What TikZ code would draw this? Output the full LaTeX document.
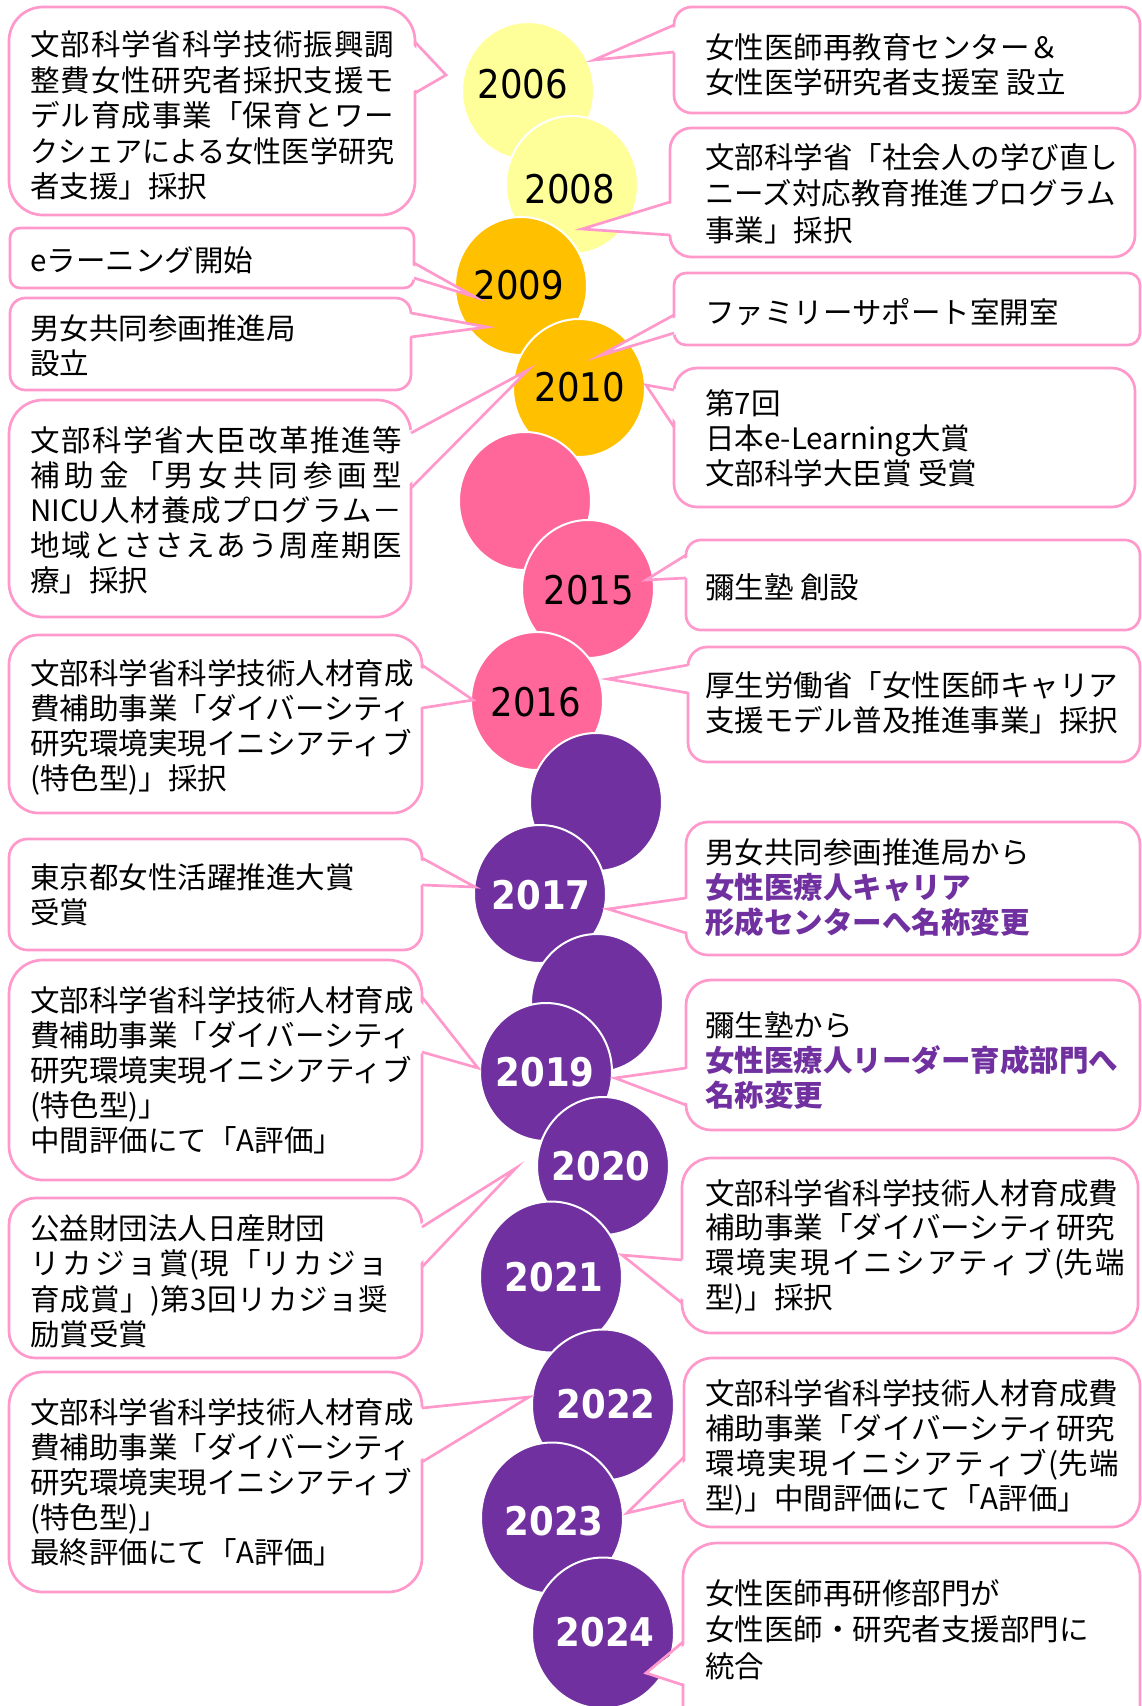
\documentclass[tikz,border=0pt]{standalone}
\usepackage{fontspec}
\setmainfont{Noto Sans CJK JP}
\newfontfamily\yearfont[FakeStretch=0.9]{DejaVu Sans}
\usetikzlibrary{shapes.geometric}
\definecolor{pinkline}{HTML}{FF99CC}
\definecolor{cyel}{HTML}{FFFF99}
\definecolor{corg}{HTML}{FFC000}
\definecolor{cpnk}{HTML}{FF6699}
\definecolor{cpur}{HTML}{7030A0}
\newcommand\jst[2]{\makebox[#1][s]{#2}}
% left callout: name, left, top, right, bottom, p1y, tipx, tipy, p2y
\newcommand\calloutL[9]{%
  \pgfmathsetmacro\crad{min((#5-#3)/6,34)}%
  \draw[cbox, rounded corners=\crad pt] (#2,#3) rectangle (#4,#5);%
  \coordinate (#1) at (#7,#8);%
  \fill[white] ({#4-6},#6) -- (#1) -- ({#4-6},#9) -- cycle;%
  \draw[cedge] (#4,#6) -- (#1) -- (#4,#9);%
}
% right callout: name, left, top, right, bottom, p1y, tipx, tipy, p2y
\newcommand\calloutR[9]{%
  \pgfmathsetmacro\crad{min((#5-#3)/6,34)}%
  \draw[cbox, rounded corners=\crad pt] (#2,#3) rectangle (#4,#5);%
  \coordinate (#1) at (#7,#8);%
  \fill[white] ({#2+6},#6) -- (#1) -- ({#2+6},#9) -- cycle;%
  \draw[cedge] (#2,#6) -- (#1) -- (#2,#9);%
}
% text block: name, x, first baseline, spacing, list of lines
\newcommand\tlines[5]{%
  \foreach \txtline [count=\i] in {#5} {%
    \node[tx] (#1\i) at (#2,{#3+#4*(\i-1)}) {\txtline};%
  }%
}
\begin{document}
\begin{tikzpicture}[x=1pt,y=-1pt,
  cbox/.style={draw=pinkline, line width=2.7pt, fill=white},
  cedge/.style={draw=pinkline, line width=2.7pt},
  ell/.style={ellipse, inner sep=0pt, minimum width=132pt, minimum height=138pt, draw=white, line width=2pt},
  bigell/.style={ell, minimum width=142pt, minimum height=151pt},
  yrn/.style={font=\yearfont\fontsize{39.5pt}{40pt}\selectfont, text=black, inner sep=0pt},
  yrb/.style={font=\yearfont\bfseries\fontsize{39.5pt}{40pt}\selectfont, text=white, inner sep=0pt},
  tx/.style={font=\fontsize{29.5pt}{35pt}\selectfont, anchor=base west, inner sep=0pt, text=black}]
\useasboundingbox (0,0) rectangle (1142,1706);
\clip (0,0) rectangle (1142,1706);

% ---- ellipses ----
\node[ell, fill=cyel] (e06) at (528,91) {};
\node[ell, fill=cyel] (e08) at (572,185) {};
\node[ell, fill=corg] (e09) at (521,286) {};
\node[ell, fill=corg] (e10) at (579,388) {};
\node[ell, fill=cpnk] (ep1) at (525,501) {};
\node[ell, fill=cpnk] (e15) at (588,589) {};
\node[ell, fill=cpnk] (e16) at (537,701) {};
\node[ell, fill=cpur] (eu1) at (596,802) {};
\node[ell, fill=cpur] (e17) at (540,894) {};
\node[ell, fill=cpur] (eu2) at (597,1003) {};
\node[ell, fill=cpur] (e19) at (546,1072) {};
\node[ell, fill=cpur] (e20) at (603,1166) {};
\node[bigell, fill=cpur] (e21) at (551,1277) {};
\node[bigell, fill=cpur] (e22) at (603,1405) {};
\node[bigell, fill=cpur] (e23) at (552,1518) {};
\node[bigell, fill=cpur] (e24) at (603,1633) {};

% ---- years ----
\node[yrn] (y06) at (523,84) {2006};
\node[yrn] (y08) at (570,189) {2008};
\node[yrn] (y09) at (519,285) {2009};
\node[yrn] (y10) at (580,387) {2010};
\node[yrn] (y15) at (589,590) {2015};
\node[yrn] (y16) at (536,702) {2016};
\node[yrb] (y17) at (541,895) {2017};
\node[yrb] (y19) at (545,1072) {2019};
\node[yrb] (y20) at (601,1166) {2020};
\node[yrb] (y21) at (554,1277) {2021};
\node[yrb] (y22) at (606,1404) {2022};
\node[yrb] (y23) at (554,1521) {2023};
\node[yrb] (y24) at (605,1632) {2024};

% ---- left callouts ----
\calloutL{tL1}{9}{7}{415}{215}{42}{446}{75}{93}
\calloutL{tL2}{10}{228}{414}{288}{263}{475}{297}{278}
\calloutL{tL3}{10}{298}{411}{390}{313}{487}{327}{337}
\calloutL{tL4}{9}{400}{411}{617}{433}{528}{370}{488}
\calloutL{tL5}{9}{635}{422}{813}{665}{473}{700}{708}
\calloutL{tL6}{9}{839}{422}{950}{858}{475}{887}{885}
\calloutL{tL7}{9}{960}{422}{1180}{997}{478}{1068}{1052}
\calloutL{tL8}{9}{1198}{422}{1358}{1227}{516}{1168}{1267}
\calloutL{tL9}{9}{1372}{422}{1592}{1408}{529}{1397}{1462}

% ---- right callouts ----
\calloutR{tR1}{674}{7}{1140}{113}{25}{594}{60}{52}
\calloutR{tR2}{670}{128}{1135}{257}{202}{582}{229}{235}
\calloutR{tR3}{674}{273}{1140}{345}{315}{599}{356}{333}
\calloutR{tR4}{674}{368}{1135}{507}{390}{646}{385}{427}
\calloutR{tR5}{686}{540}{1140}{630}{555}{646}{580}{578}
\calloutR{tR6}{688}{647}{1140}{762}{665}{608}{679}{693}
\calloutR{tR7}{686}{822}{1140}{955}{898}{608}{909}{933}
\calloutR{tR8}{686}{980}{1140}{1130}{1068}{615}{1078}{1105}
\calloutR{tR9}{682}{1158}{1138}{1333}{1260}{622}{1255}{1303}
\calloutR{tR10}{684}{1358}{1140}{1527}{1457}{627}{1513}{1500}
\calloutR{tR11}{683}{1543}{1140}{1760}{1642}{646}{1673}{1685}

% ---- left texts ----
\tlines{xL1}{30}{55.5}{35.5}{{\jst{364pt}{文\hfil 部\hfil 科\hfil 学\hfil 省\hfil 科\hfil 学\hfil 技\hfil 術\hfil 振\hfil 興\hfil 調}},{\jst{364pt}{整\hfil 費\hfil 女\hfil 性\hfil 研\hfil 究\hfil 者\hfil 採\hfil 択\hfil 支\hfil 援\hfil モ}},{\jst{364pt}{デ\hfil ル\hfil 育\hfil 成\hfil 事\hfil 業\hfil 「保\hfil 育\hfil と\hfil ワ\hfil ー}},{\resizebox{364pt}{\height}{クシェアによる女性医学研究}},{者支援」採択}}
\tlines{xL2}{30}{271}{35}{{eラーニング開始}}
\tlines{xL3}{30}{339}{35}{{男女共同参画推進局},{設立}}
\tlines{xL4}{30}{451}{35}{{\jst{372pt}{文\hfil 部\hfil 科\hfil 学\hfil 省\hfil 大\hfil 臣\hfil 改\hfil 革\hfil 推\hfil 進\hfil 等}},{\jst{372pt}{補\hfil 助\hfil 金\hfil 「男\hfil 女\hfil 共\hfil 同\hfil 参\hfil 画\hfil 型}},{\jst{372pt}{NICU\hfil 人\hfil 材\hfil 養\hfil 成\hfil プ\hfil ロ\hfil グ\hfil ラ\hfil ム\hfil －}},{\jst{372pt}{地\hfil 域\hfil と\hfil さ\hfil さ\hfil え\hfil あ\hfil う\hfil 周\hfil 産\hfil 期\hfil 医}},{療」採択}}
\tlines{xL5}{30}{684}{35}{{文部科学省科学技術人材育成},{費補助事業「ダイバーシティ},{研究環境実現イニシアティブ},{(特色型)」採択}}
\tlines{xL6}{30}{888}{35}{{東京都女性活躍推進大賞},{受賞}}
\tlines{xL7}{30}{1011}{35}{{文部科学省科学技術人材育成},{費補助事業「ダイバーシティ},{研究環境実現イニシアティブ},{(特色型)」},{中間評価にて「A評価」}}
\tlines{xL8}{30}{1239}{35.5}{{公益財団法人日産財団},{\jst{358pt}{リ\hfil カ\hfil ジ\hfil ョ\hfil 賞(現\hfil 「リ\hfil カ\hfil ジ\hfil ョ}},{\jst{358pt}{育\hfil 成\hfil 賞\hfil 」)第\hfil 3\hfil 回\hfil リ\hfil カ\hfil ジ\hfil ョ\hfil 奨}},{励賞受賞}}
\tlines{xL9}{30}{1423}{35}{{文部科学省科学技術人材育成},{費補助事業「ダイバーシティ},{研究環境実現イニシアティブ},{(特色型)」},{最終評価にて「A評価」}}

% ---- right texts ----
\tlines{xR1}{705}{58}{35}{{女性医師再教育センター＆},{女性医学研究者支援室 設立}}
\tlines{xR2}{705}{168}{36.5}{{文部科学省「社会人の学び直し},{ニーズ対応教育推進プログラム},{事業」採択}}
\tlines{xR3}{705}{323}{35}{{ファミリーサポート室開室}}
\tlines{xR4}{705}{414}{35}{{第7回},{日本e-Learning大賞},{文部科学大臣賞 受賞}}
\tlines{xR5}{705}{598}{35}{{彌生塾 創設}}
\tlines{xR6}{705}{696}{35}{{厚生労働省「女性医師キャリア},{支援モデル普及推進事業」採択}}
\tlines{xR7}{705}{863}{35}{{男女共同参画推進局から},{\bfseries\color{cpur}女性医療人キャリア},{\bfseries\color{cpur}形成センターへ名称変更}}
\tlines{xR8}{705}{1036}{35}{{彌生塾から},{\bfseries\color{cpur}女性医療人リーダー育成部門へ},{\bfseries\color{cpur}名称変更}}
\tlines{xR9}{705}{1204}{34.7}{{文部科学省科学技術人材育成費},{補助事業「ダイバーシティ研究},{\jst{420pt}{環\hfil 境\hfil 実\hfil 現\hfil イ\hfil ニ\hfil シ\hfil ア\hfil テ\hfil ィ\hfil ブ\hfil (先\hfil 端}},{型)」採択}}
\tlines{xR10}{705}{1404}{35}{{文部科学省科学技術人材育成費},{補助事業「ダイバーシティ研究},{\jst{414pt}{環\hfil 境\hfil 実\hfil 現\hfil イ\hfil ニ\hfil シ\hfil ア\hfil テ\hfil ィ\hfil ブ\hfil (先\hfil 端}},{型)」中間評価にて「A評価」}}
\tlines{xR11}{705}{1604}{36.5}{{女性医師再研修部門が},{女性医師・研究者支援部門に},{統合}}
\end{tikzpicture}
\end{document}
